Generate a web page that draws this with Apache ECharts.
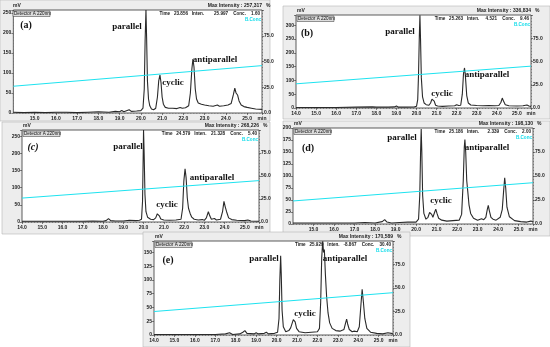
<!DOCTYPE html>
<html><head><meta charset="utf-8">
<script src="https://cdn.jsdelivr.net/npm/echarts@6/dist/echarts.min.js"></script>
<style>html,body{margin:0;padding:0;background:#fff}#c{width:550px;height:347px}</style>
</head><body><div id="c"></div>
<script>
// ---- data (time in min, signal in mV) ----
const traceA = [[14.0,2],[14.5,1],[15.0,2],[15.5,1],[16.0,2],[16.5,2],[17.0,1],[17.5,2],[18.0,3],[18.5,2],[18.8,4],[19.0,3],[19.1,6],[19.2,3],[19.45,8],[19.55,4],[19.8,5],[20.0,6],[20.1,12],[20.16,60],[20.2,180],[20.24,257],[20.27,190],[20.31,80],[20.36,35],[20.42,18],[20.5,10],[20.6,8],[20.7,12],[20.78,40],[20.84,80],[20.9,95],[20.95,75],[21.0,40],[21.06,22],[21.15,14],[21.3,12],[21.5,12],[21.7,11],[21.85,14],[21.95,12],[22.0,16],[22.1,13],[22.25,18],[22.33,50],[22.4,110],[22.45,135],[22.5,115],[22.56,60],[22.62,35],[22.7,25],[22.85,22],[23.0,20],[23.2,18],[23.4,17],[23.6,20],[23.7,17],[23.9,18],[24.1,20],[24.25,24],[24.35,45],[24.42,62],[24.48,50],[24.55,45],[24.62,30],[24.72,20],[24.85,16],[25.0,14],[25.2,12],[25.4,10],[25.7,9]];
const traceB = [[14.0,2],[15.0,2],[16.0,2],[17.0,3],[17.8,4],[18.0,3],[18.6,3],[18.9,4],[19.0,7],[19.1,3],[19.5,3],[19.9,4],[20.0,6],[20.06,30],[20.1,120],[20.14,260],[20.17,336],[20.2,250],[20.24,110],[20.3,40],[20.38,18],[20.48,12],[20.56,14],[20.62,10],[20.7,18],[20.77,32],[20.82,36],[20.88,25],[20.95,10],[21.05,7],[21.3,6],[21.6,7],[21.9,8],[22.0,12],[22.1,9],[22.2,10],[22.28,50],[22.34,125],[22.39,145],[22.43,120],[22.5,45],[22.58,18],[22.7,11],[23.0,9],[23.3,8],[23.6,9],[23.9,8],[24.1,9],[24.2,20],[24.27,36],[24.33,25],[24.42,12],[24.6,8],[25.0,7],[25.3,8],[25.5,11],[25.6,7],[25.7,6]];
const traceC = [[14.0,2],[15.0,2],[16.0,2],[17.0,2],[17.5,3],[18.0,2],[18.15,4],[18.27,10],[18.38,4],[18.6,3],[19.0,3],[19.3,5],[19.6,4],[19.8,5],[19.9,8],[19.95,60],[19.98,180],[20.0,268],[20.03,200],[20.07,80],[20.12,30],[20.2,14],[20.35,8],[20.5,7],[20.6,12],[20.68,24],[20.72,27],[20.78,18],[20.85,9],[21.0,6],[21.3,5],[21.6,6],[21.85,8],[21.93,40],[21.99,120],[22.05,155],[22.1,130],[22.16,70],[22.22,40],[22.3,25],[22.38,14],[22.5,8],[22.7,6],[22.9,7],[23.0,5],[23.1,12],[23.2,30],[23.27,18],[23.35,8],[23.5,10],[23.6,6],[23.8,8],[23.9,30],[23.97,60],[24.03,45],[24.1,30],[24.2,12],[24.35,7],[24.6,5],[25.0,4],[25.15,6],[25.3,3],[25.7,2]];
const traceD = [[14.0,2],[15.0,2],[16.0,2],[17.0,2],[17.5,3],[18.0,2],[18.35,5],[18.47,9],[18.58,4],[18.8,2],[19.2,3],[19.6,4],[20.0,4],[20.12,10],[20.18,60],[20.22,150],[20.25,198],[20.28,150],[20.32,60],[20.38,22],[20.48,10],[20.58,14],[20.66,24],[20.7,26],[20.76,20],[20.82,14],[20.9,24],[20.96,31],[21.02,22],[21.1,12],[21.25,8],[21.5,6],[21.8,7],[22.1,8],[22.22,20],[22.3,90],[22.35,160],[22.38,176],[22.42,150],[22.47,90],[22.52,68],[22.58,40],[22.66,22],[22.8,12],[23.0,8],[23.19,11],[23.3,9],[23.4,14],[23.47,30],[23.52,39],[23.57,28],[23.65,14],[23.75,10],[23.82,9],[23.9,8],[24.1,14],[24.2,30],[24.27,70],[24.32,96],[24.37,75],[24.43,35],[24.55,15],[24.8,7],[25.1,5],[25.4,4],[25.6,6],[25.7,4]];
const traceE = [[14.0,1],[15.0,1],[16.0,1],[17.0,1],[17.5,2],[17.7,4],[17.85,1],[18.2,2],[18.35,5],[18.45,8],[18.55,3],[18.9,2],[19.0,4],[19.1,2],[19.4,3],[19.5,5],[19.6,2],[19.9,3],[20.05,5],[20.12,30],[20.16,100],[20.2,144],[20.23,110],[20.27,45],[20.33,15],[20.45,6],[20.6,8],[20.69,13],[20.76,16],[20.82,28],[20.86,31],[20.91,24],[20.98,12],[21.1,6],[21.4,4],[21.7,5],[22.0,6],[22.1,12],[22.16,60],[22.21,140],[22.26,170],[22.3,150],[22.34,155],[22.39,110],[22.45,70],[22.52,40],[22.6,22],[22.72,12],[22.9,8],[23.1,7],[23.3,10],[23.38,22],[23.43,29],[23.48,20],[23.56,10],[23.7,6],[23.8,7],[23.95,6],[24.05,15],[24.12,50],[24.19,83],[24.25,60],[24.32,30],[24.42,12],[24.6,5],[24.9,3],[25.2,2],[25.45,4],[25.53,6],[25.62,3],[25.7,2]];
const traces = [traceA, traceB, traceC, traceD, traceE];
// B.Conc gradient (%)
const bConcA = [[14,26],[25.7,46]];
const bConcB = [[14,26],[25.7,45]];
const bConcC = [[14,26],[25.7,45]];
const bConcD = [[14,24],[25.7,43]];
const bConcE = [[14,25],[25.7,45]];
const bConcs = [bConcA, bConcB, bConcC, bConcD, bConcE];
const panelLabels = ['(a)','(b)','(c)','(d)','(e)'];
const peakNames = ['parallel','cyclic','antiparallel'];
const maxIntensity = ['257,317','336,834','268,226','198,130','170,589'];
const cursorTime = ['23.856','25.263','24.579','25.186','25.929'];
const cursorInten = ['25.997','4.521','21.328','2.339','-8.867'];
const cursorConc = ['1.60','9.46','5.40','2.00','30.40'];
const yMax = [257.3, 336.8, 268.2, 200, 170.6];
const yInterval = [50, 50, 50, 25, 25];
const xMin = 14, xMax = 25.7;

// ---- layout (pixels) ----
const grids = [
  {l:12, t:10, w:250, h:103},
  {l:296, t:15, w:235, h:93},
  {l:22, t:130, w:237, h:92},
  {l:293, t:128, w:240, h:96},
  {l:154, t:241, w:239, h:94}
];
const frames = [
  [0,0,270,121],[283,6,267,113],[2,122,268,112],[283,121,267,115],[143,232,267,115]
];
const labelPos = [
  [[26,25],[127,27],[173,83],[215,60]],
  [[307,33],[400,32],[442,94],[487,75]],
  [[33,147],[128,147],[167,205],[212,178]],
  [[308,148],[402,138],[441,201],[487,148]],
  [[168,260],[264,259],[305,314],[345,259]]
];
const hideFirstX = [true,false,false,true,false];

const chart = echarts.init(document.getElementById('c'), null, {renderer:'canvas'});
const lab = {fontSize:5, color:'#222', fontFamily:'Liberation Sans', fontWeight:'bold'};
const option = {animation:false, backgroundColor:'#fff', grid:[], xAxis:[], yAxis:[], series:[], graphic:[]};

grids.forEach((g,i)=>{
  option.grid.push({left:g.l, top:g.t, width:g.w, height:g.h, show:true, backgroundColor:'#fff', borderColor:'#333', borderWidth:0.8, z:1});
  option.xAxis.push({type:'value', gridIndex:i, min:xMin, max:xMax, interval:1,
    axisLine:{show:false}, axisTick:{show:true, length:2, lineStyle:{color:'#333', width:0.6}},
    splitLine:{show:true, lineStyle:{color:'#777', type:[1,2], width:0.6}},
    axisLabel:Object.assign({}, lab, {margin:3, showMinLabel:!hideFirstX[i],
      formatter:v => (Math.abs(v-Math.round(v))>1e-6) ? 'min' : v.toFixed(1)})});
  option.yAxis.push({type:'value', gridIndex:i, min:0, max:yMax[i], interval:yInterval[i], position:'left',
    axisLine:{show:false}, axisTick:{show:true, length:2, lineStyle:{color:'#333', width:0.6}},
    splitLine:{show:true, lineStyle:{color:'#777', type:[1,2], width:0.6}},
    axisLabel:Object.assign({}, lab, {margin:2, formatter:v => (v % yInterval[i] === 0) ? String(v) : ''})});
  option.yAxis.push({type:'value', gridIndex:i, min:0, max:100, interval:25, position:'right',
    axisLine:{show:false}, axisTick:{show:true, length:2, lineStyle:{color:'#333', width:0.6}},
    splitLine:{show:false},
    axisLabel:Object.assign({}, lab, {margin:2, formatter:v => v >= 100 ? '' : v.toFixed(1)})});
  option.series.push({type:'line', xAxisIndex:i, yAxisIndex:2*i, data:traces[i], showSymbol:false,
    lineStyle:{color:'#2a2a2a', width:1.1}, z:3});
  option.series.push({type:'line', xAxisIndex:i, yAxisIndex:2*i+1, data:bConcs[i], showSymbol:false,
    lineStyle:{color:'#1ee3f0', width:1}, z:4});

  const f = frames[i];
  option.graphic.push({type:'rect', shape:{x:f[0], y:f[1], width:f[2], height:f[3]}, style:{fill:'#ededed', stroke:'#b5b5b5', lineWidth:0.6}, z:-10, silent:true});
  const tf = 'Liberation Sans';
  option.graphic.push({type:'text', x:g.l+1, y:g.t-7, style:{text:'mV', fontSize:5, fill:'#222', fontFamily:tf, fontWeight:'bold'}, z:100});
  option.graphic.push({type:'text', x:g.l+g.w, y:g.t-7, style:{text:'Max Intensity : '+maxIntensity[i], fontSize:5, fill:'#222', fontFamily:tf, fontWeight:'bold', textAlign:'right'}, z:100});
  option.graphic.push({type:'text', x:g.l+g.w+4, y:g.t-7, style:{text:'%', fontSize:5, fill:'#222', fontFamily:tf, fontWeight:'bold'}, z:100});
  option.graphic.push({type:'rect', shape:{x:g.l+1, y:g.t+1, width:37, height:5.5}, style:{fill:'#ddd', stroke:'#333', lineWidth:0.5}, z:99});
  option.graphic.push({type:'text', x:g.l+2, y:g.t+1.5, style:{text:'Detector A 220nm', fontSize:4.6, fill:'#111', fontFamily:tf}, z:100});
  option.graphic.push({type:'text', x:g.l+g.w*0.59, y:g.t+1.5, style:{text:'Time   '+cursorTime[i]+'   Inten.', fontSize:4.6, fill:'#222', fontFamily:tf, fontWeight:'bold'}, z:100});
  option.graphic.push({type:'text', x:g.l+g.w-2, y:g.t+1.5, style:{text:cursorInten[i]+'    Conc.    '+cursorConc[i], fontSize:4.6, fill:'#222', fontFamily:tf, fontWeight:'bold', textAlign:'right'}, z:100});
  option.graphic.push({type:'text', x:g.l+g.w-1, y:g.t+7, style:{text:'B.Conc', fontSize:4.6, fill:'#10dcea', fontFamily:tf, fontWeight:'bold', textAlign:'right'}, z:100});

  const lp = labelPos[i];
  const serif = 'Liberation Serif';
  option.graphic.push({type:'text', x:lp[0][0], y:lp[0][1], style:{text:panelLabels[i], fontSize:10, fill:'#111', fontFamily:serif, fontWeight:'bold', fontStyle: i===2?'italic':'normal', textAlign:'center', textVerticalAlign:'middle'}, z:100});
  for (let k=0;k<3;k++){
    option.graphic.push({type:'text', x:lp[k+1][0], y:lp[k+1][1], style:{text:peakNames[k], fontSize:9, fill:'#111', fontFamily:serif, fontWeight:'bold', textAlign:'center', textVerticalAlign:'middle'}, z:100});
  }
});
chart.setOption(option);
</script></body></html>
